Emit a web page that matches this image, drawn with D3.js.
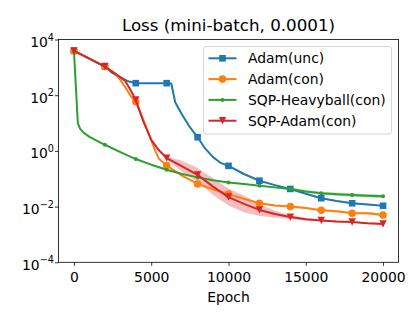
<!DOCTYPE html>
<html><head><meta charset="utf-8">
<script src="https://cdn.jsdelivr.net/npm/d3@7"></script>
<style>body{margin:0;background:#fff}svg{display:block}text{font-family:"DejaVu Sans",sans-serif}</style>
</head><body><svg id="c" width="420" height="320"></svg>
<script>
// ---------- data ----------
const title = "Loss (mini-batch, 0.0001)";
const xLabel = "Epoch";
const xTicks = [0, 5000, 10000, 15000, 20000];
const yTickExps = [-4, -2, 0, 2, 4];
const markerEpochs = [0, 2000, 4000, 6000, 8000, 10000, 12000, 14000, 16000, 18000, 20000];
const seriesNames = ["Adam(unc)", "Adam(con)", "SQP-Heavyball(con)", "SQP-Adam(con)"];
const seriesColors = ["#1f77b4", "#ff7f0e", "#2ca02c", "#d62728"];
const seriesMarkers = ["square", "circle", "point", "triangleDown"];

const adamUncEpochs = [0,1000,2000,2500,3000,3500,4000,5000,6000,6300,6550,7000,7500,8000,8500,9000,9500,10000,11000,12000,13000,14000,15000,16000,17000,18000,19000,20000];
const adamUncValues = [3900,2040,1070,617,447,316,270,270,270,263,56,20,7.1,3.1,1.2,0.6,0.37,0.29,0.148,0.085,0.059,0.043,0.029,0.020,0.0158,0.0132,0.012,0.0107];
const adamUncSpread = [0.01,0.01,0.01,0.01,0.01,0.01,0.01,0.01,0.01,0.01,0.01,0.01,0.01,0.01,0.01,0.01,0.01,0.01,0.01,0.01,0.02,0.02,0.02,0.03,0.03,0.03,0.03,0.03];

const adamConEpochs = [0,1000,2000,2500,2750,3000,3300,3700,4000,4500,5000,5250,5500,6000,7000,8000,9000,10000,11000,12000,13000,14000,15000,16000,17000,18000,19000,20000];
const adamConValues = [3900,2040,1070,708,537,355,200,89,58,12.6,2.45,1.05,0.52,0.30,0.13,0.065,0.042,0.028,0.019,0.0132,0.011,0.0100,0.0089,0.0074,0.0068,0.0058,0.0058,0.0050];
const adamConSpread = [0.01,0.01,0.01,0.01,0.01,0.01,0.01,0.01,0.01,0.01,0.01,0.01,0.02,0.02,0.03,0.03,0.03,0.03,0.03,0.03,0.03,0.03,0.04,0.04,0.04,0.04,0.05,0.05];

const heavyEpochs = [0,250,400,600,1000,1500,2000,3000,4000,5000,6000,7000,8000,9000,10000,11000,12000,13000,14000,15000,16000,17000,18000,19000,20000];
const heavyValues = [3900,10,6.2,4.7,3.2,2.3,1.66,0.91,0.51,0.32,0.21,0.148,0.112,0.089,0.074,0.065,0.056,0.049,0.043,0.035,0.030,0.028,0.026,0.0245,0.0234];
const heavySpread = [0.01,0.01,0.01,0.01,0.01,0.01,0.01,0.01,0.01,0.01,0.01,0.01,0.01,0.01,0.01,0.01,0.02,0.03,0.04,0.05,0.06,0.06,0.06,0.06,0.06];

const sqpAdamEpochs = [0,1000,2000,2500,3000,3300,3600,4000,4500,5000,5500,6000,7000,8000,9000,10000,11000,12000,13000,14000,15000,16000,17000,18000,19000,20000];
const sqpAdamValues = [3900,2040,1070,690,437,331,178,68,11,2.5,1.05,0.55,0.28,0.138,0.052,0.022,0.0126,0.0076,0.0054,0.0042,0.0035,0.0032,0.0029,0.0028,0.0025,0.0024];
const sqpAdamSpread = [0.01,0.01,0.01,0.01,0.01,0.01,0.01,0.01,0.02,0.02,0.03,0.05,0.2,0.25,0.3,0.3,0.3,0.22,0.12,0.07,0.05,0.03,0.03,0.03,0.03,0.03];

// ---------- layout ----------
const L = 58.5, R = 398.5, T = 39.5, B = 262.3;
const svg = d3.select("#c");
const x = d3.scaleLinear().domain([-1000, 21000]).range([L, R]);
const y = d3.scaleLog().domain([1e-4, 1e4]).range([B, T]);

svg.append("defs").append("clipPath").attr("id","clip")
  .append("rect").attr("x",L).attr("y",T).attr("width",R-L).attr("height",B-T);

const series = [
  {e: adamUncEpochs, v: adamUncValues, s: adamUncSpread},
  {e: adamConEpochs, v: adamConValues, s: adamConSpread},
  {e: heavyEpochs, v: heavyValues, s: heavySpread},
  {e: sqpAdamEpochs, v: sqpAdamValues, s: sqpAdamSpread}
].map((d,i)=>({
  name: seriesNames[i], color: seriesColors[i], marker: seriesMarkers[i],
  pts: d.e.map((ep,j)=>({x: ep, y: d.v[j], lo: d.v[j]/Math.pow(10,d.s[j]), hi: d.v[j]*Math.pow(10,d.s[j])}))
}));

const plot = svg.append("g").attr("clip-path","url(#clip)");
const area = d3.area().x(d=>x(d.x)).y0(d=>y(d.lo)).y1(d=>y(d.hi));
const line = d3.line().x(d=>x(d.x)).y(d=>y(d.y));

series.forEach(s=>{
  plot.append("path").attr("d", area(s.pts)).attr("fill", s.color).attr("fill-opacity",0.3).attr("stroke","none");
});

function drawMarker(g, type, cx, cy, color){
  if(type==="square"){
    g.append("rect").attr("x",cx-3.3).attr("y",cy-3.3).attr("width",6.6).attr("height",6.6).attr("fill",color);
  } else if(type==="circle"){
    g.append("circle").attr("cx",cx).attr("cy",cy).attr("r",3.8).attr("fill",color);
  } else if(type==="point"){
    g.append("circle").attr("cx",cx).attr("cy",cy).attr("r",2).attr("fill",color);
  } else {
    const r=3.7;
    g.append("path").attr("d",`M${cx-r},${cy-r}L${cx+r},${cy-r}L${cx},${cy+r}Z`).attr("fill",color);
  }
}

series.forEach(s=>{
  plot.append("path").attr("d", line(s.pts)).attr("fill","none").attr("stroke", s.color)
    .attr("stroke-width",2).attr("stroke-linejoin","round").attr("stroke-linecap","square");
  s.pts.filter(p=>markerEpochs.includes(p.x)).forEach(p=>drawMarker(plot, s.marker, x(p.x), y(p.y), s.color));
});

// frame
svg.append("rect").attr("x",L).attr("y",T).attr("width",R-L).attr("height",B-T)
  .attr("fill","none").attr("stroke","#000").attr("stroke-width",0.8);

// x axis
const xg = svg.append("g").attr("transform",`translate(0,${B})`)
  .call(d3.axisBottom(x).tickValues(xTicks).tickSize(3.5).tickPadding(3.5).tickFormat(d3.format("d")));
xg.select(".domain").remove();
xg.selectAll(".tick line").attr("stroke-width",0.8);
xg.selectAll(".tick text").attr("font-size","13.9px").attr("font-family","DejaVu Sans").attr("fill","#000").attr("dy",null).attr("y",19.4);

// y axis
const yg = svg.append("g").attr("transform",`translate(${L},0)`)
  .call(d3.axisLeft(y).tickValues(yTickExps.map(e=>Math.pow(10,e))).tickSize(3.5).tickFormat(""));
yg.select(".domain").remove();
yg.selectAll(".tick line").attr("stroke-width",0.8);
yg.selectAll(".tick").each(function(d){
  const e = Math.round(Math.log10(d));
  const t = d3.select(this).append("text").attr("text-anchor","end").attr("x",-4.5).attr("y",6.8)
    .attr("fill","#000").attr("font-size","13.9px").attr("font-family","DejaVu Sans");
  t.append("tspan").text("10");
  t.append("tspan").attr("font-size","9.7px").attr("dy",-6.3).text(e<0 ? "\u2212"+(-e) : String(e));
});

// title & label
svg.append("text").attr("x",(L+R)/2).attr("y",31).attr("text-anchor","middle")
  .attr("font-size","16.7px").text(title);
svg.append("text").attr("x",(L+R)/2).attr("y",302).attr("text-anchor","middle")
  .attr("font-size","13.9px").text(xLabel);

// legend
const lg = svg.append("g");
lg.append("rect").attr("x",203.5).attr("y",46.5).attr("width",188).attr("height",87.5).attr("rx",2.5)
  .attr("fill","#fff").attr("fill-opacity",0.8).attr("stroke","#cccccc").attr("stroke-width",0.8);
series.forEach((s,i)=>{
  const cy = 58.3 + i*20.8;
  lg.append("line").attr("x1",208.5).attr("x2",236.5).attr("y1",cy).attr("y2",cy).attr("stroke",s.color).attr("stroke-width",2);
  drawMarker(lg, s.marker, 222.5, cy, s.color);
  lg.append("text").attr("x",248).attr("y",cy+5).attr("font-size","13.9px").text(s.name);
});
</script></body></html>
